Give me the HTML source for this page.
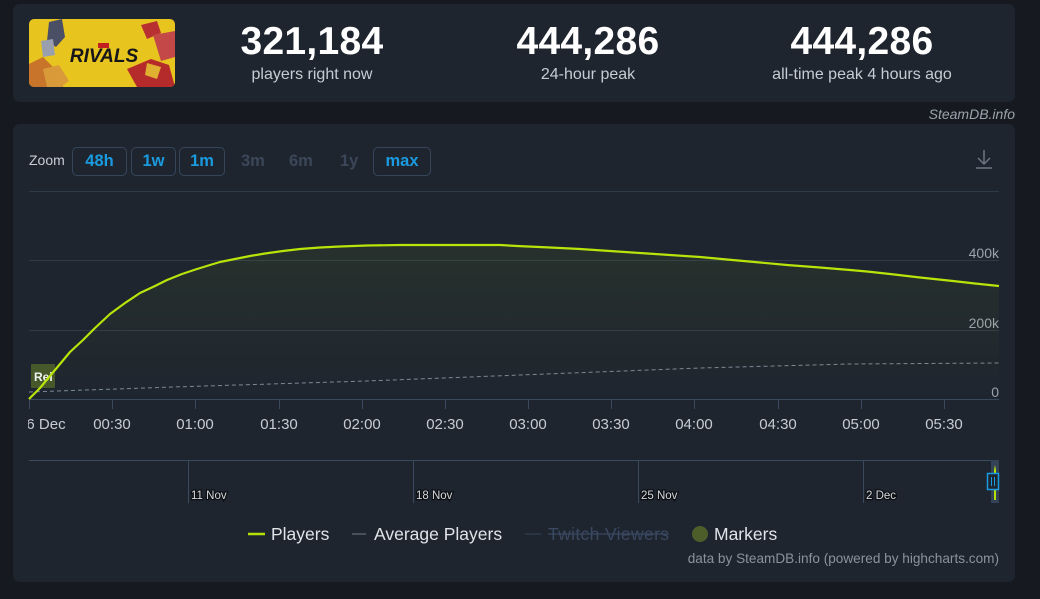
<!DOCTYPE html>
<html><head><meta charset="utf-8"><style>
*{margin:0;padding:0;box-sizing:border-box}
body{width:1040px;height:599px;background:#161a20;font-family:"Liberation Sans",sans-serif;position:relative;overflow:hidden}
.panel{position:absolute;background:#1e252f;border-radius:7px}
.stat{position:absolute;text-align:center;color:#fff}
.stat .n{font-size:39px;font-weight:bold;line-height:40px;letter-spacing:0.3px}
.stat .l{font-size:16px;color:#c6ccd3;line-height:18px;margin-top:4px}
.btn{position:absolute;top:147px;height:29px;border:1px solid #36465a;border-radius:5px;color:#1a9be0;font-weight:bold;font-size:16.5px;text-align:center;line-height:27px}
.dis{position:absolute;top:147px;line-height:29px;color:#3b4758;font-weight:bold;font-size:16.5px}
</style></head><body>
<div class="panel" style="left:13px;top:4px;width:1002px;height:98px"></div>
<svg style="position:absolute;left:29px;top:19px" width="146" height="68" viewBox="0 0 146 68">
<defs><clipPath id="c"><rect width="146" height="68" rx="5"/></clipPath></defs>
<g clip-path="url(#c)">
<rect width="146" height="68" fill="#e8c41e"/>
<path d="M20 3 L33 0 L36 18 L27 28 L18 22Z" fill="#4a4f66"/>
<path d="M12 22 L24 20 L26 36 L14 38Z" fill="#9a9fae"/>
<path d="M0 45 L14 38 L26 50 L34 68 L0 68Z" fill="#c8742a"/>
<path d="M14 50 L30 46 L40 62 L32 68 L18 68Z" fill="#d99b3a"/>
<path d="M112 6 L128 2 L132 14 L118 20Z" fill="#b83030"/>
<path d="M124 16 L146 12 L146 38 L132 42Z" fill="#c44848"/>
<path d="M98 50 L122 40 L140 46 L146 68 L108 68Z" fill="#b52a2a"/>
<path d="M118 44 L132 48 L128 60 L116 56Z" fill="#e0b030"/>
<text x="75" y="43" text-anchor="middle" font-family="Liberation Sans" font-weight="bold" font-style="italic" font-size="19" fill="#15151a">RIVALS</text>
<rect x="69" y="24" width="11" height="5" fill="#c02020"/>
</g></svg>
<div class="stat" style="left:232px;width:160px;top:22px"><div class="n">321,184</div><div class="l">players right now</div></div>
<div class="stat" style="left:498px;width:180px;top:22px"><div class="n">444,286</div><div class="l">24-hour peak</div></div>
<div class="stat" style="left:762px;width:200px;top:22px"><div class="n">444,286</div><div class="l">all-time peak 4 hours ago</div></div>
<div style="position:absolute;right:25px;top:106px;font-size:14px;font-style:italic;color:#9aa3ad">SteamDB.info</div>

<div class="panel" style="left:13px;top:124px;width:1002px;height:458px"></div>
<div style="position:absolute;left:29px;top:152px;font-size:14px;color:#c8cdd3">Zoom</div>
<div class="btn" style="left:72px;width:55px">48h</div>
<div class="btn" style="left:131px;width:45px">1w</div>
<div class="btn" style="left:179px;width:46px">1m</div>
<div class="dis" style="left:241px">3m</div>
<div class="dis" style="left:289px">6m</div>
<div class="dis" style="left:340px">1y</div>
<div class="btn" style="left:373px;width:58px">max</div>

<svg style="position:absolute;left:0;top:0" width="1040" height="599">
<defs>
<linearGradient id="g" x1="0" y1="0" x2="0" y2="1">
<stop offset="0" stop-color="#a3cf06" stop-opacity="0.07"/>
<stop offset="1" stop-color="#a3cf06" stop-opacity="0.0"/>
</linearGradient>
</defs>
<g stroke="#6b7683" stroke-width="1.5" fill="none"><path d="M984 150 V164 M978 158 L984 164 L990 158 M976 168 H992"/></g>
<g stroke="#2f3a48" stroke-width="1">
<line x1="29" y1="191.5" x2="999" y2="191.5"/>
<line x1="29" y1="260.5" x2="999" y2="260.5"/>
<line x1="29" y1="330.5" x2="999" y2="330.5"/>
</g>
<line x1="29" y1="399.5" x2="999" y2="399.5" stroke="#3a4a5e" stroke-width="1"/>
<g stroke="#3a4a5e" stroke-width="1">
<line x1="29.5" y1="399" x2="29.5" y2="409"/><line x1="112.5" y1="399" x2="112.5" y2="409"/><line x1="195.5" y1="399" x2="195.5" y2="409"/><line x1="279.5" y1="399" x2="279.5" y2="409"/><line x1="362.5" y1="399" x2="362.5" y2="409"/><line x1="445.5" y1="399" x2="445.5" y2="409"/><line x1="528.5" y1="399" x2="528.5" y2="409"/><line x1="611.5" y1="399" x2="611.5" y2="409"/><line x1="694.5" y1="399" x2="694.5" y2="409"/><line x1="778.5" y1="399" x2="778.5" y2="409"/><line x1="861.5" y1="399" x2="861.5" y2="409"/><line x1="944.5" y1="399" x2="944.5" y2="409"/>
</g>
<g font-family="Liberation Sans" font-size="14" fill="#9aa3ad" text-anchor="end">
<text x="999" y="258">400k</text><text x="999" y="328">200k</text><text x="999" y="397">0</text>
</g>
<g font-family="Liberation Sans" font-size="15" fill="#c6ccd2" text-anchor="middle">
<text x="46" y="429">6 Dec</text><text x="112" y="429">00:30</text><text x="195" y="429">01:00</text><text x="279" y="429">01:30</text><text x="362" y="429">02:00</text><text x="445" y="429">02:30</text><text x="528" y="429">03:00</text><text x="611" y="429">03:30</text><text x="694" y="429">04:00</text><text x="778" y="429">04:30</text><text x="861" y="429">05:00</text><text x="944" y="429">05:30</text>
</g>
<rect x="13" y="412" width="15" height="22" fill="#1e252f"/>
<path d="M29 399 L40 388 L55 370 L70 352 L83 340 L95 328 L110 314 L125 303 L140 293 L155 286 L167 280 L182 274 L197 269 L210 265 L220 262 L235 259 L250 256 L265 253.5 L283 251 L300 249 L320 247.5 L340 246.5 L367 245.5 L400 245 L433 245 L470 245 L500 245 L517 246 L550 247.5 L580 249 L610 251 L640 253 L670 255 L700 257 L727 259.5 L760 262.5 L787 265 L820 267.5 L850 270 L867 271.5 L890 274 L920 277.5 L953 281 L975 283.5 L999 286 L999 399 Z" fill="url(#g)"/>
<path d="M29 392 L173 387 L367 381 L520 375 L700 368 L850 364 L999 363" stroke="#7d8894" stroke-width="1" fill="none" stroke-dasharray="4,3"/>
<rect x="31" y="364" width="24" height="24" rx="1" fill="#4b5e2b" opacity="0.9"/>
<text x="34" y="381" font-family="Liberation Sans" font-weight="bold" font-size="12" fill="#f0f2f0">Rel</text>
<path d="M29 399 L40 388 L55 370 L70 352 L83 340 L95 328 L110 314 L125 303 L140 293 L155 286 L167 280 L182 274 L197 269 L210 265 L220 262 L235 259 L250 256 L265 253.5 L283 251 L300 249 L320 247.5 L340 246.5 L367 245.5 L400 245 L433 245 L470 245 L500 245 L517 246 L550 247.5 L580 249 L610 251 L640 253 L670 255 L700 257 L727 259.5 L760 262.5 L787 265 L820 267.5 L850 270 L867 271.5 L890 274 L920 277.5 L953 281 L975 283.5 L999 286" stroke="#b8e40a" stroke-width="2.2" fill="none" stroke-linejoin="round"/>
<line x1="29" y1="460.5" x2="991" y2="460.5" stroke="#3a4a5e" stroke-width="1"/>
<g stroke="#3a4a5e" stroke-width="1">
<line x1="188.5" y1="460" x2="188.5" y2="503"/><line x1="413.5" y1="460" x2="413.5" y2="503"/><line x1="638.5" y1="460" x2="638.5" y2="503"/><line x1="863.5" y1="460" x2="863.5" y2="503"/>
</g>
<g font-family="Liberation Sans" font-size="11.5" fill="#d5d9de" stroke="#0c0e12" stroke-width="2.5" paint-order="stroke">
<text x="191" y="499">11 Nov</text><text x="416" y="499">18 Nov</text><text x="641" y="499">25 Nov</text><text x="866" y="499">2 Dec</text>
</g>
<rect x="991" y="460" width="8" height="43" fill="#3a4a62" opacity="0.8"/>
<path d="M995 465 L996 470 L996 500 L994 500 L994 470Z" fill="#b4e007"/>
<rect x="987.5" y="473.5" width="11" height="16" fill="#1e252f" stroke="#1a9be0" stroke-width="1.5"/>
<line x1="991.5" y1="477" x2="991.5" y2="486" stroke="#1a9be0"/><line x1="994.5" y1="477" x2="994.5" y2="486" stroke="#1a9be0"/>
<line x1="248" y1="534" x2="265" y2="534" stroke="#b4e007" stroke-width="2.5"/>
<line x1="352" y1="534" x2="366" y2="534" stroke="#707b87" stroke-width="1"/>
<line x1="525" y1="534" x2="541" y2="534" stroke="#34425a" stroke-width="1"/>
<circle cx="700" cy="534" r="8" fill="#4d5e2b"/>
<g font-family="Liberation Sans" font-size="17.5" fill="#e0e4e8">
<text x="271" y="540">Players</text><text x="374" y="540">Average Players</text>
<text x="548" y="540" fill="#3a4860" textLength="121">Twitch Viewers</text>
<text x="714" y="540">Markers</text>
</g>
<line x1="548" y1="534" x2="669" y2="534" stroke="#3a4860" stroke-width="1.2"/>
<text x="999" y="563" text-anchor="end" font-family="Liberation Sans" font-size="13.6" fill="#8a939d">data by SteamDB.info (powered by highcharts.com)</text>
</svg>
</body></html>
